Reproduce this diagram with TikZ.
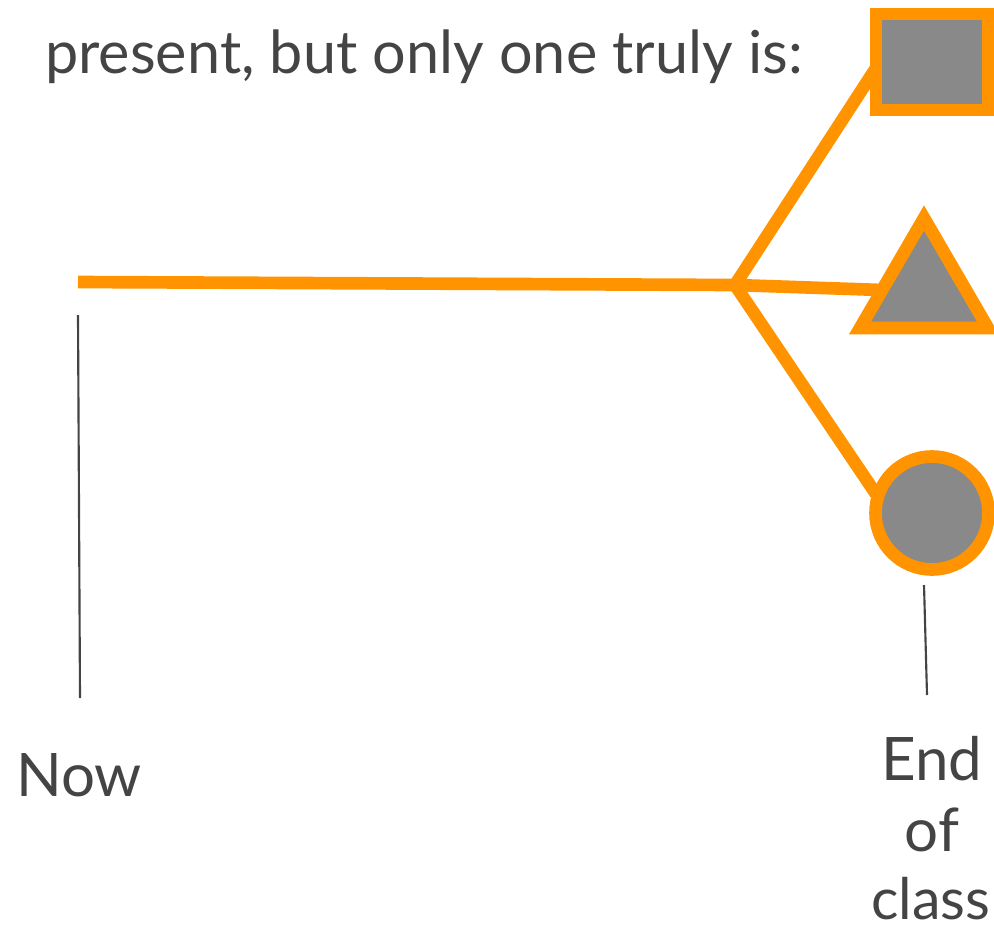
\documentclass[tikz,border=0pt]{standalone}
\usepackage{fontspec}
\setmainfont{Lato}
\definecolor{orng}{HTML}{FF9400}
\definecolor{txt}{HTML}{444444}
\definecolor{fillg}{HTML}{898989}
\begin{document}
\begin{tikzpicture}[x=0.75pt,y=-0.75pt,
  bigtext/.style={text=txt,font=\fontsize{45}{54}\selectfont,inner sep=0pt},
  branch/.style={draw=orng,line width=9.5pt,line join=miter},
  tick/.style={draw=txt,line width=1.6pt},
  outcome/.style={draw=orng,fill=fillg,line width=9.5pt,line join=miter}]
\useasboundingbox (0,0) rectangle (994,936);
% title
\node[bigtext,anchor=base west,font=\fontsize{44.5}{54}\selectfont] (title) at (45,73) {present, but only one truly is:};
% outcomes
\draw[outcome] (876,14) rectangle (988,110);
\coordinate (sq) at (876,68);
\draw[outcome] (924,218) -- (988,328) -- (860,328) -- cycle;
\coordinate (tri) at (882,290);
\draw[outcome] (932,513) circle (56.5);
\coordinate (circ) at (876,494);
% branches
\coordinate (start) at (78,282);
\coordinate (split) at (735,285);
\draw[branch] (start) -- (split);
\draw[branch] (split) -- (sq);
\draw[branch] (split) -- (tri);
\draw[branch] (split) -- (circ);
% ticks
\coordinate (nowtop) at (78,315);
\coordinate (nowbot) at (80,698);
\draw[tick] (nowtop) -- (nowbot);
\coordinate (endtop) at (924,585);
\coordinate (endbot) at (927,695);
\draw[tick] (endtop) -- (endbot);
% labels
\node[bigtext,anchor=base] (now) at (79,796) {Now};
\node[bigtext,anchor=base] (end1) at (932,780) {End};
\node[bigtext,anchor=base] (end2) at (932,851) {of};
\node[bigtext,anchor=base,font=\fontsize{43}{54}\selectfont] (end3) at (931,919) {class};
\end{tikzpicture}
\end{document}
